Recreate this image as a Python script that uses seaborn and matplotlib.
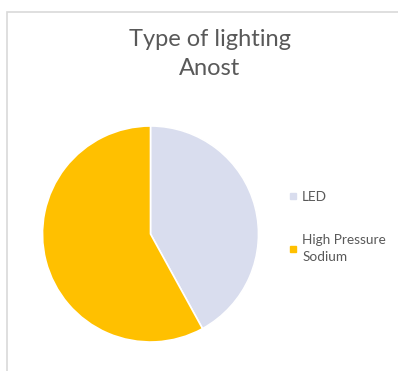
import matplotlib
matplotlib.use("Agg")
import matplotlib.pyplot as plt
import seaborn as sns
from matplotlib.patches import Rectangle
from matplotlib.lines import Line2D

labels = ['LED', 'High Pressure\nSodium']
shares = [42, 58]
colors = ['#D9DDEE', '#FFC000']

sns.set_theme(style='white')
plt.rcParams['font.family'] = ['Lato', 'DejaVu Sans']

fig = plt.figure(figsize=(3.98, 3.71), dpi=100)

# light chart frame
fig.patches.append(Rectangle((7 / 398, -0.1), 1.2, 1 - 12 / 371 + 0.1, transform=fig.transFigure,
                             facecolor='white', edgecolor='#D9D9D9', linewidth=1.2, zorder=0))

ax = fig.add_axes([0.1068, 0.0782, 0.5427, 0.5822])
ax.set_zorder(2)
ax.patch.set_visible(False)
ax.pie(shares, colors=colors, startangle=90, counterclock=False,
       wedgeprops=dict(edgecolor='white', linewidth=1.2), radius=1)
ax.set_xlim(-1, 1)
ax.set_ylim(-1, 1)
ax.set_aspect('auto')
ax.axis('off')

fig.text(210 / 398, 1 - 29 / 371, 'Type of lighting\nAnost', ha='center', va='top',
         fontsize=17, color='#595959', linespacing=1.48, zorder=3)

handles = [Line2D([], [], marker='s', linestyle='none', markersize=4, color=c) for c in colors]
leg = fig.legend(handles, labels, loc='center left', bbox_to_anchor=(277 / 398, 1 - 227 / 371),
                 frameon=False, fontsize=9.8, handlelength=0.6, handletextpad=0.35,
                 labelspacing=2.3, labelcolor='#595959')
leg.set_zorder(3)
for t in leg.get_texts():
    t.set_linespacing(1.55)

fig.savefig('out.png', dpi=100)
